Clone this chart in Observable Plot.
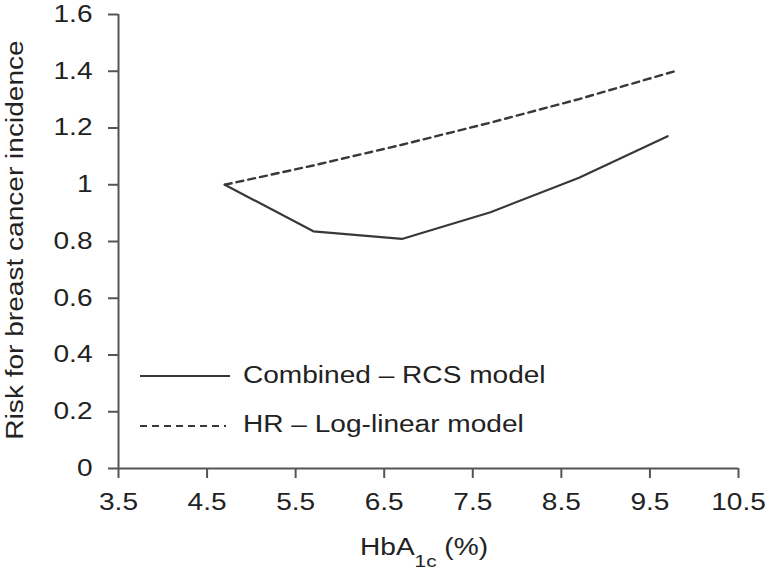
<!DOCTYPE html>
<html>
<head>
<meta charset="utf-8">
<script src="https://cdn.jsdelivr.net/npm/d3@7"></script>
<script src="https://cdn.jsdelivr.net/npm/@observablehq/plot@0.6"></script>
<style>
  html, body { margin: 0; padding: 0; background: #fff; }
  #chart { width: 768px; height: 576px; }
  svg text { fill: #222; }
</style>
</head>
<body>
<div id="chart"></div>
<script>
// ---- data ----
const rcsX = [4.7, 5.7, 6.7, 7.7, 8.7, 9.7];
const rcsRisk = [1.0, 0.836, 0.809, 0.903, 1.025, 1.171];
const hrX = [4.7, 5.7, 6.7, 7.7, 8.7, 9.8];
const hrRisk = [1.0, 1.068, 1.141, 1.219, 1.302, 1.402];
const xTicks = [3.5, 4.5, 5.5, 6.5, 7.5, 8.5, 9.5, 10.5];
const yTicks = [0, 0.2, 0.4, 0.6, 0.8, 1, 1.2, 1.4, 1.6];
const seriesNames = ["Combined \u2013 RCS model", "HR \u2013 Log-linear model"];
const yTitle = "Risk for breast cancer incidence";

const rcs = rcsX.map((x, i) => ({x, y: rcsRisk[i]}));
const hr = hrX.map((x, i) => ({x, y: hrRisk[i]}));

const axisColor = "#555";
const lineColor = "#383838";

const plot = Plot.plot({
  width: 768,
  height: 576,
  marginLeft: 118,
  marginRight: 30,
  marginTop: 14,
  marginBottom: 108,
  style: {fontFamily: "'Liberation Sans', Arial, Helvetica, sans-serif", fontSize: "23px", color: "#222", background: "#fff"},
  x: {domain: [3.5, 10.5]},
  y: {domain: [0, 1.6]},
  marks: [
    Plot.axisX({ticks: xTicks, tickSize: 10, tickPadding: 15, tickFormat: d => String(d), label: null, stroke: axisColor, strokeWidth: 2, fontSize: 23}),
    Plot.axisY({ticks: yTicks, tickSize: 10, tickPadding: 16, tickFormat: d => String(d), label: null, stroke: axisColor, strokeWidth: 2, fontSize: 23}),
    Plot.ruleY([0], {x1: 3.5, x2: 10.5, stroke: axisColor, strokeWidth: 2}),
    Plot.ruleX([3.5], {y1: 0, y2: 1.6, stroke: axisColor, strokeWidth: 2}),
    Plot.line(hr, {x: "x", y: "y", stroke: lineColor, strokeWidth: 2.4, strokeDasharray: "7,5"}),
    Plot.line(rcs, {x: "x", y: "y", stroke: lineColor, strokeWidth: 2.2})
  ]
});

document.getElementById("chart").appendChild(plot);
const svg = d3.select(plot);

// y-axis title
svg.append("text")
  .attr("transform", "translate(23,240) rotate(-90)")
  .attr("text-anchor", "middle")
  .attr("font-size", 23)
  .text(yTitle);

// x-axis title with subscript
const xt = svg.append("text")
  .attr("x", 424).attr("y", 555)
  .attr("text-anchor", "middle")
  .attr("font-size", 23);
xt.append("tspan").text("HbA");
xt.append("tspan").attr("font-size", 17).attr("dy", 12).text("1c");
xt.append("tspan").attr("dy", -12).text(" (%)");

// legend
const leg = svg.append("g").attr("text-anchor", "start");
leg.append("line").attr("x1", 140).attr("x2", 230).attr("y1", 376).attr("y2", 376)
  .attr("stroke", lineColor).attr("stroke-width", 2.2);
leg.append("text").attr("x", 243).attr("y", 383).attr("text-anchor", "start").attr("font-size", 23).text(seriesNames[0]);
leg.append("line").attr("x1", 140).attr("x2", 226).attr("y1", 426).attr("y2", 426)
  .attr("stroke", lineColor).attr("stroke-width", 2.2).attr("stroke-dasharray", "7,5");
leg.append("text").attr("x", 243).attr("y", 432).attr("text-anchor", "start").attr("font-size", 23).text(seriesNames[1]);

// the reference typeface is wider than Liberation Sans: widen glyphs horizontally
plot.querySelectorAll("text").forEach(t => {
  const len = t.getComputedTextLength();
  if (len > 0) {
    t.setAttribute("textLength", (len * 1.22).toFixed(1));
    t.setAttribute("lengthAdjust", "spacingAndGlyphs");
  }
});
</script>
</body>
</html>
